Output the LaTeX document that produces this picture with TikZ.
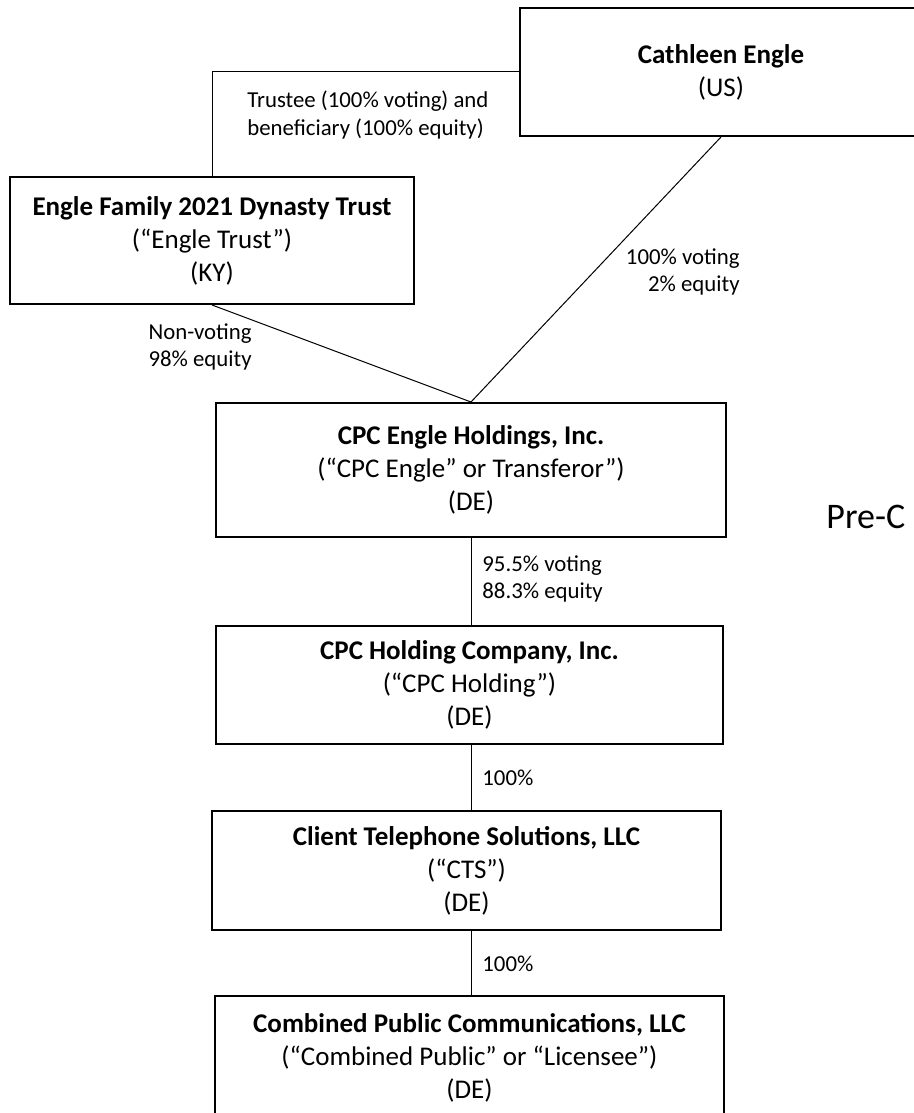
\documentclass[tikz,border=0pt]{standalone}
\usepackage{fontspec}
\setmainfont{Carlito}
\begin{document}
\begin{tikzpicture}[x=0.5pt, y=-0.5pt,
        entity/.style={draw, line width=1pt, align=center, inner sep=0pt,
            font=\fontsize{13.5}{16.5}\selectfont},
        share/.style={inner sep=0pt, font=\fontsize{11.4}{13.5}\selectfont},
        link/.style={line width=0.5pt}]
    \useasboundingbox (0,0) rectangle (914,1113);
    \clip (0,0) rectangle (914,1113);
    % owners
    \node[entity, minimum width=201pt, minimum height=64pt] (cathleen) at (721,72)
          {\textbf{Cathleen Engle}\\(US)};
    \node[entity, minimum width=202pt, minimum height=63.5pt] (trust) at (212,240.5)
          {\textbf{Engle Family 2021 Dynasty Trust}\\(“Engle Trust”)\\(KY)};
    % chain of companies
    \node[entity, minimum width=255pt, minimum height=67pt] (cpcengle) at (471,470)
          {\textbf{CPC Engle Holdings, Inc.}\\(“CPC Engle” or Transferor”)\\(DE)};
    \node[entity, minimum width=253.5pt, minimum height=59pt] (cpcholding) at (469.5,685)
          {\textbf{CPC Holding Company, Inc.}\\(“CPC Holding”)\\(DE)};
    \node[entity, minimum width=254.5pt, minimum height=59.5pt] (cts) at (466.5,870.5)
          {\textbf{Client Telephone Solutions, LLC}\\(“CTS”)\\(DE)};
    \node[entity, minimum width=254.5pt, minimum height=62pt] (combined) at (469.5,1058)
          {\textbf{Combined Public Communications, LLC}\\(“Combined Public” or “Licensee”)\\(DE)};
    \node[anchor=west, inner sep=0pt, font=\fontsize{18}{21.6}\selectfont] (phase) at (826,517) {Pre-C};
    % ownership lines
    \draw[link] (trust.north) |- (cathleen.west);
    \draw[link] (trust.south) -- (cpcengle.north);
    \draw[link] (cathleen.south) -- (cpcengle.north);
    \draw[link] (cpcengle.south) -- (cpcengle.south |- cpcholding.north);
    \draw[link] (cpcholding.south -| cpcengle.south) -- (cts.north -| cpcengle.south);
    \draw[link] (cts.south -| cpcengle.south) -- (combined.north -| cpcengle.south);
    % percentages
    \node[share, anchor=west, align=left] (trusteelbl) at (247,115)
          {Trustee (100\% voting) and\\beneficiary (100\% equity)};
    \node[share, anchor=east, align=right] (cathleenlbl) at (740,272) {100\% voting\\2\% equity};
    \node[share, anchor=east, align=right] (trustlbl) at (252,347) {Non-voting\\98\% equity};
    \node[share, anchor=west, align=left] (englelbl) at (482,579) {95.5\% voting\\88.3\% equity};
    \node[share, anchor=west] (holdinglbl) at (482,778) {100\%};
    \node[share, anchor=west] (ctslbl) at (482,964) {100\%};
\end{tikzpicture}
\end{document}
